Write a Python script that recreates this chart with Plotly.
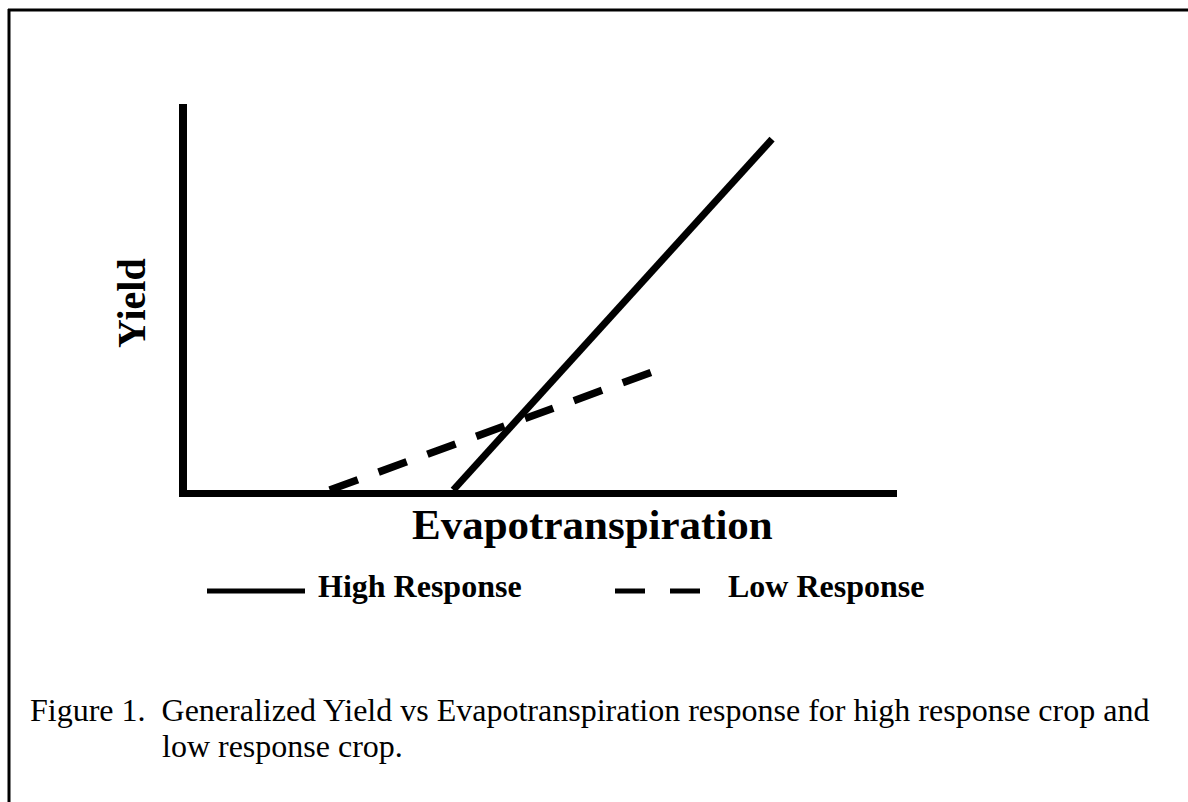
import plotly.graph_objects as go

W, H = 1188, 802

# ---- Data (arbitrary units: Evapotranspiration 0-100, Yield 0-100) ----
high_et = [37.5, 82.4]
high_yield = [0, 90.9]
low_et = [20.1, 66.6]
low_yield = [0, 31.3]

series_names = ["High Response", "Low Response"]
x_title = "Evapotranspiration"
y_title = "Yield"
caption_lines = [
    "Figure 1.\u00a0\u00a0Generalized Yield vs Evapotranspiration response for high response crop and",
    "low response crop.",
]


def px(x):
    return x / W


def py(y):
    return 1 - y / H


SERIF = "Liberation Serif, Times New Roman, serif"

fig = go.Figure()
fig.add_trace(go.Scatter(
    x=high_et, y=high_yield, mode="lines", name=series_names[0],
    line=dict(color="black", width=7), showlegend=False, hoverinfo="skip"))
fig.add_trace(go.Scatter(
    x=low_et, y=low_yield, mode="lines", name=series_names[1],
    line=dict(color="black", width=7.5, dash="30px,22px"), showlegend=False, hoverinfo="skip"))

plot_l, plot_r, plot_t, plot_b = 187, 897, 104, 490

axis_common = dict(showline=True, linecolor="black", showgrid=False, zeroline=False,
                   showticklabels=False, ticks="", range=[0, 100], fixedrange=True)

fig.update_layout(
    width=W, height=H,
    margin=dict(l=0, r=0, t=0, b=0, pad=0),
    paper_bgcolor="white", plot_bgcolor="white",
    showlegend=False,
    xaxis=dict(domain=[px(plot_l), px(plot_r)], linewidth=7, **axis_common),
    yaxis=dict(domain=[py(plot_b), py(plot_t)], linewidth=8, **axis_common),
)

shapes = []
# outer frame (left and top only)
shapes.append(dict(type="line", xref="paper", yref="paper", x0=px(9), x1=px(9), y0=py(9), y1=py(802),
                   line=dict(color="black", width=3)))
shapes.append(dict(type="line", xref="paper", yref="paper", x0=px(8), x1=px(1188), y0=py(10), y1=py(10),
                   line=dict(color="black", width=3)))
# legend keys
shapes.append(dict(type="line", xref="paper", yref="paper", x0=px(207), x1=px(305), y0=py(591), y1=py(591),
                   line=dict(color="black", width=5)))
shapes.append(dict(type="line", xref="paper", yref="paper", x0=px(615), x1=px(702), y0=py(591), y1=py(591),
                   line=dict(color="black", width=5, dash="30px,25px")))
fig.update_layout(shapes=shapes)

ann = []
ann.append(dict(text=x_title, xref="paper", yref="paper", x=px(410), y=py(524), xanchor="left", yanchor="middle",
                showarrow=False, font=dict(family=SERIF, size=43, color="black", weight="bold")))
ann.append(dict(text=y_title, xref="paper", yref="paper", x=px(132), y=py(303), xanchor="center", yanchor="middle",
                textangle=-90, showarrow=False, font=dict(family=SERIF, size=40, color="black", weight="bold")))
ann.append(dict(text=series_names[0], xref="paper", yref="paper", x=px(316), y=py(586), xanchor="left", yanchor="middle",
                showarrow=False, font=dict(family=SERIF, size=32, color="black", weight="bold")))
ann.append(dict(text=series_names[1], xref="paper", yref="paper", x=px(726), y=py(586), xanchor="left", yanchor="middle",
                showarrow=False, font=dict(family=SERIF, size=32, color="black", weight="bold")))
ann.append(dict(text=caption_lines[0], xref="paper", yref="paper", x=px(28), y=py(710), xanchor="left", yanchor="middle",
                showarrow=False, font=dict(family=SERIF, size=32, color="black")))
ann.append(dict(text=caption_lines[1], xref="paper", yref="paper", x=px(160), y=py(746), xanchor="left", yanchor="middle",
                showarrow=False, font=dict(family=SERIF, size=32, color="black")))
fig.update_layout(annotations=ann)

fig.write_html("out.html", config={"displayModeBar": False},
               post_script="document.body.style.margin='0px';document.body.style.overflow='hidden';")
